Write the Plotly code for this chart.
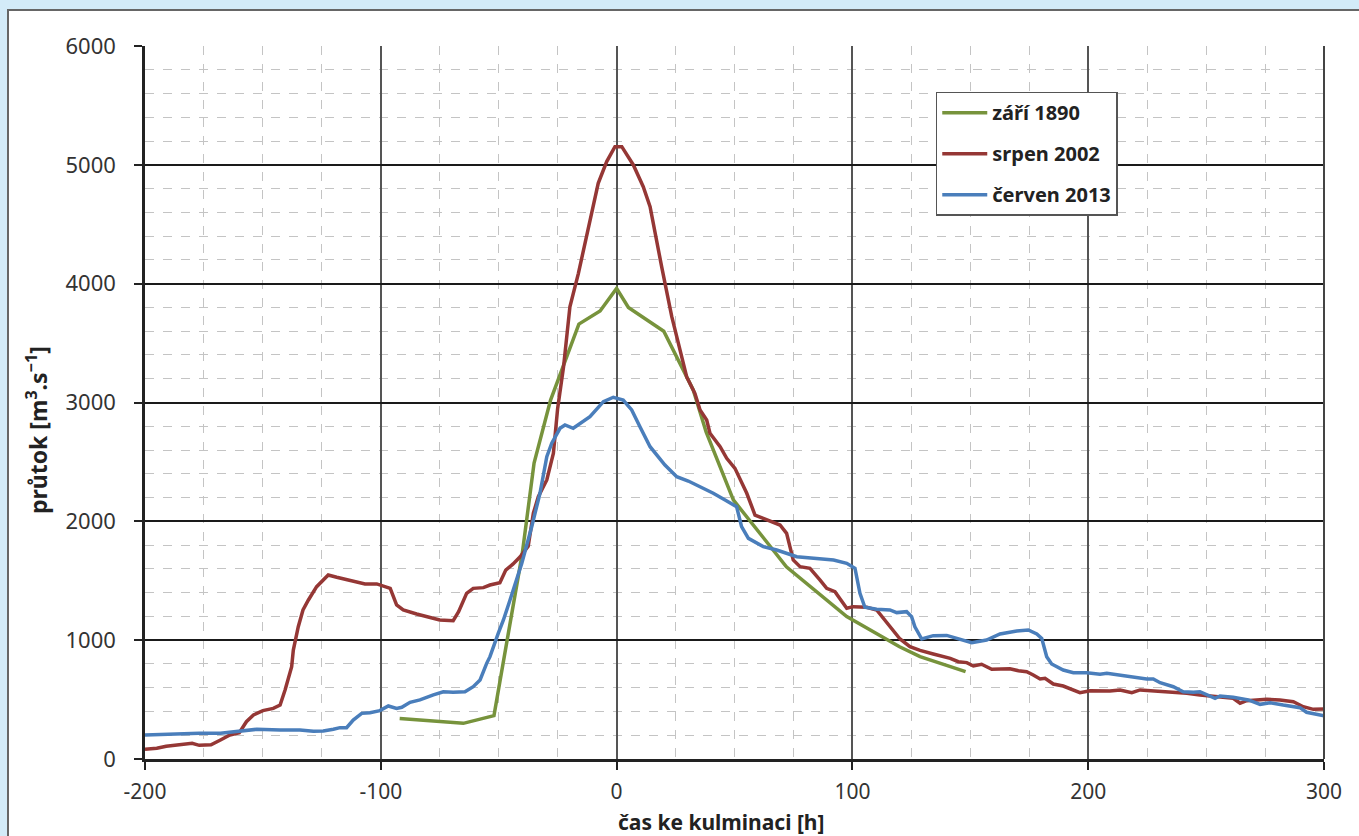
import plotly.graph_objects as go

# ---- data ----
x_1890 = [-92, -65, -52, -40, -35, -28, -16, -7, 0, 5, 20, 32.5, 38, 49.5, 72, 97.6, 120, 128.7, 148]
y_1890 = [340, 300, 365, 1730, 2490, 3020, 3660, 3770, 3960, 3800, 3600, 3105, 2750, 2180, 1618, 1198, 945, 861, 735]

x_2002 = [-200, -195, -191, -185, -180, -177, -172, -168, -164, -160, -157, -154, -150, -145.6, -142.7,
          -140.6, -137.8, -137.1, -135, -133, -130.7, -127.2, -122.3, -118.7, -113, -108.8, -106.7,
          -101.7, -99, -96, -93.3, -90.5, -84.8, -79, -75, -69.3, -67, -63.6, -60.8, -56.5, -53.7,
          -49.5, -47, -44, -41, -37.5, -35.3, -33.2, -29.6, -26.8, -25, -22.5, -19.8, -16.2, -12,
          -7.8, -4.2, -0.7, 2.2, 7.1, 11.3, 14.2, 19.1, 23.4, 29.7, 33.2, 35.4, 38.2, 39.6, 43.9,
          46.7, 50.2, 55.2, 58.7, 62.2, 69.3, 72.1, 74.9, 77.8, 82, 86.3, 89.1, 92.6, 97.6, 100.4,
          106.1, 110.3, 115.9, 120.2, 124.4, 128.7, 134.3, 141.5, 144.9, 148.5, 151.3, 154.8, 159.1,
          166.8, 170.4, 173.9, 176.7, 179.6, 181.7, 185.2, 189.4, 196.5, 200.8, 209.2, 213.5, 218.5,
          222, 233.3, 241.8, 247.4, 261.5, 264.4, 267.2, 275.7, 281.3, 287, 291.2, 295.5, 300]
y_2002 = [82, 90, 108, 118, 132, 115, 120, 160, 202, 221, 314, 370, 407, 426, 454,
          580, 777, 917, 1113, 1254, 1338, 1450, 1548, 1529, 1501, 1487, 1473,
          1473, 1456, 1436, 1296, 1254, 1220, 1189, 1170, 1164, 1240, 1394, 1436, 1442, 1464,
          1484, 1590, 1640, 1700, 1790, 2068, 2207, 2348, 2573, 2950, 3300, 3806, 4087, 4480,
          4845, 5027, 5153, 5153, 4999, 4816, 4648, 4143, 3722, 3217, 3077, 2937, 2853, 2741, 2628,
          2530, 2446, 2236, 2053, 2025, 1969, 1899, 1675, 1618, 1605, 1506, 1436, 1408, 1268, 1282,
          1277, 1254, 1113, 1010, 945, 914, 884, 847, 819, 811, 783, 797, 755,
          760, 743, 735, 707, 673, 679, 631, 614, 558, 575, 572, 581, 558,
          581, 566, 553, 539, 511, 469, 491, 502, 497, 482, 440, 418, 421]

x_2013 = [-200, -191, -182, -177, -168, -160, -152.6, -142.7, -134.3, -128.6, -124.4, -120.1, -117.3,
          -114.5, -111.7, -108.1, -104.6, -100.4, -96.8, -93.3, -91.1, -87.6, -83.4, -77.7, -73.5,
          -69.3, -64.3, -60.8, -57.9, -55.1, -53.7, -50.2, -48, -45.2, -40.2, -36, -32.5, -29.6,
          -27.5, -24, -21.9, -18.4, -14.1, -11.3, -5.6, -1.4, 2.8, 6.4, 9.9, 14.2, 20.5, 25.5,
          30.4, 35.4, 41, 46, 50.9, 53, 55.9, 62.2, 67.9, 76.4, 84.9, 92, 97.6, 101.1, 103.2,
          105.3, 110.3, 115.9, 118.8, 123, 125.1, 126.5, 129.4, 134.3, 140, 145.6, 150.6, 156.9,
          162.6, 169.7, 174.6, 178.2, 180.3, 182.4, 184.5, 189.4, 193.7, 199.4, 205, 207.9, 216.3,
          224.8, 227.6, 230.5, 236.1, 240.3, 244.6, 247.4, 253.8, 255.9, 261.5, 267.9, 272.9,
          277.1, 282.7, 289.8, 292.6, 296.1, 300]
y_2013 = [202, 208, 208, 216, 216, 236, 250, 244, 244, 233, 236, 250, 264,
          264, 328, 384, 390, 407, 446, 426, 435, 477, 497, 539, 566,
          561, 566, 609, 665, 805, 861, 1057, 1170, 1338, 1647, 1955, 2236, 2544,
          2657, 2783, 2811, 2783, 2839, 2881, 3007, 3044, 3021, 2937, 2796, 2628, 2474, 2376,
          2339, 2292, 2236, 2180, 2123, 1955, 1857, 1787, 1759, 1702, 1689, 1675, 1647, 1605, 1394,
          1277, 1260, 1254, 1232, 1240, 1198, 1113, 1010, 1038, 1040, 1007, 979, 1001,
          1052, 1077, 1086, 1052, 1015, 861, 800, 749, 726, 726, 713, 721, 698,
          673, 673, 642, 608, 566, 561, 566, 511, 530, 519, 497, 460,
          474, 454, 432, 393, 376, 364]

# axis tick labels (as printed in the reference, with ASCII hyphen)
x_tickvals = [-200, -100, 0, 100, 200, 300]
x_ticktext = ["-200", "-100", "0", "100", "200", "300"]

series = [
    ("září 1890", x_1890, y_1890, "#77933C"),
    ("srpen 2002", x_2002, y_2002, "#953735"),
    ("červen 2013", x_2013, y_2013, "#4A7EBB"),
]

x_title = "čas ke kulminaci [h]"
y_title = "průtok [m<sup>3</sup>.s<sup>−1</sup>]"

FONT = "Noto Sans"

fig = go.Figure()
for i, (name, xs, ys, col) in enumerate(series):
    fig.add_trace(go.Scatter(x=xs, y=ys, mode="lines", name=name, legendgroup=f"g{i}",
                             line=dict(color=col, width=3.5)))

fig.update_layout(
    width=1359, height=836,
    margin=dict(l=145, r=35, t=46, b=77),
    paper_bgcolor="#d3ebf8",
    plot_bgcolor="white",
    font=dict(family=FONT, color="#333333"),
    showlegend=True,
    legend=dict(x=0.6707, y=0.936, xanchor="left", yanchor="top",
                bgcolor="white", bordercolor="#555555", borderwidth=1.5,
                font=dict(family=FONT, size=20, color="#222222", weight="bold"),
                traceorder="grouped", tracegroupgap=12, itemwidth=45),
    shapes=[dict(type="rect", xref="paper", yref="paper",
                 x0=-0.1162, x1=1.2, y0=-0.3, y1=1.0505,
                 fillcolor="white", line=dict(color="#666666", width=2), layer="below")],
    annotations=[
        dict(text=x_title, xref="paper", yref="paper", x=0.4885, y=-0.0885,
             xanchor="center", yanchor="middle", showarrow=False, borderpad=0,
             font=dict(family=FONT, size=21, color="#222222", weight="bold")),
        dict(text=y_title, xref="paper", yref="paper", x=-0.0916, y=0.4614,
             xanchor="center", yanchor="middle", showarrow=False, textangle=-90,
             font=dict(family=FONT, size=23, color="#222222", weight="bold")),
    ],
)

fig.update_xaxes(
    range=[-200, 300], tickmode="array", tickvals=x_tickvals, ticktext=x_ticktext,
    showgrid=True, gridcolor="#555555", gridwidth=1.5, zeroline=False,
    showline=True, linecolor="#222222", linewidth=2.5, mirror=False,
    ticks="outside", ticklen=8, tickcolor="#222222", tickwidth=2,
    tickfont=dict(family=FONT, size=21, color="#333333"),
    ticklabelstandoff=4,
    minor=dict(tickmode="linear", tick0=-200, dtick=25, showgrid=True,
               gridcolor="#c4c4c4", griddash="dash", gridwidth=1.2),
)
fig.update_yaxes(
    range=[0, 6000], dtick=1000,
    showgrid=True, gridcolor="#1a1a1a", gridwidth=2, zeroline=False,
    showline=True, linecolor="#222222", linewidth=2.5,
    ticks="outside", ticklen=8, tickcolor="#222222", tickwidth=2,
    tickfont=dict(family=FONT, size=22, color="#333333"),
    ticklabelstandoff=14,
    minor=dict(dtick=200, showgrid=True, gridcolor="#c4c4c4", griddash="dash", gridwidth=1.2),
)

# right border of the plotting area
fig.add_shape(type="line", xref="paper", yref="paper", x0=1, x1=1, y0=0, y1=1,
              line=dict(color="#444444", width=2))

fig.write_html("out.html", config={"displayModeBar": False},
               post_script="document.body.style.margin='0';")
